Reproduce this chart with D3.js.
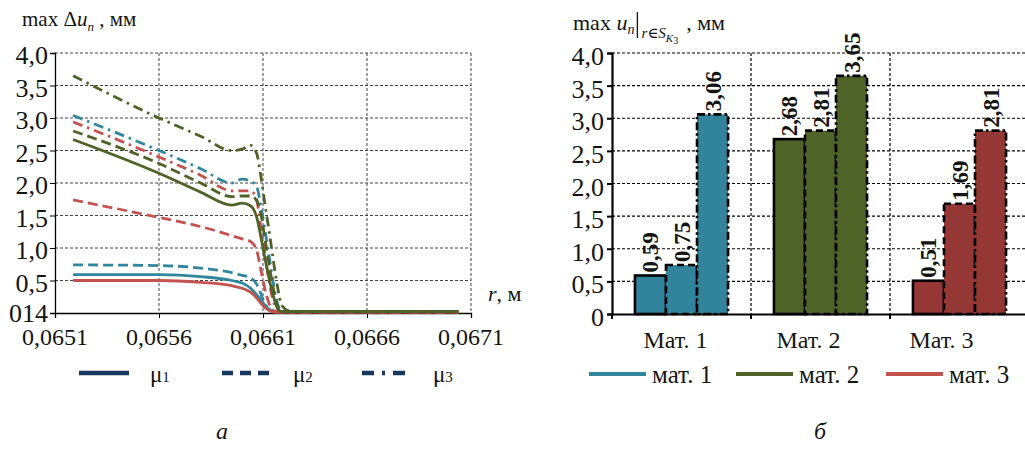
<!DOCTYPE html>
<html><head><meta charset="utf-8">
<script src="https://cdn.jsdelivr.net/npm/d3@7"></script>
<style>
body{margin:0;background:#fff}
svg{display:block}
</style>
</head><body><svg id="c" width="1025" height="450" font-family="'Liberation Serif', 'DejaVu Serif', 'Times New Roman', serif"></svg>
<script>
// ---------- Left chart data (r, м vs max Δu_n, мм) ----------
const rGrid = [0.065187,0.0656,0.0658,0.06595,0.0660,0.06604,0.06607,0.06609,0.06611,0.06613,0.06615,0.06617,0.06619,0.06623,0.0664,0.06704];
const mat1Mu1 = [0.59,0.59,0.56,0.50,0.46,0.38,0.28,0.20,0.12,0.05,0.03,0.025,0.025,0.025,0.025,0.025];
const mat1Mu2 = [0.74,0.73,0.69,0.62,0.58,0.54,0.44,0.29,0.14,0.05,0.03,0.025,0.025,0.025,0.025,0.025];
const mat1Mu3 = [3.04,2.50,2.22,2.00,2.06,2.03,1.94,1.64,1.26,0.86,0.45,0.14,0.04,0.025,0.025,0.025];
const mat3Mu1 = [0.50,0.50,0.47,0.42,0.38,0.32,0.23,0.15,0.08,0.04,0.015,0.01,0.01,0.015,0.015,0.015];
const mat3Mu2 = [1.74,1.47,1.33,1.19,1.14,1.10,0.96,0.66,0.36,0.14,0.04,0.02,0.015,0.015,0.015,0.015];
const mat3Mu3 = [2.94,2.40,2.12,1.88,1.88,1.88,1.73,1.32,0.90,0.47,0.18,0.06,0.02,0.015,0.015,0.015];
const mat2Mu1 = [2.67,2.15,1.86,1.66,1.69,1.65,1.47,1.17,0.83,0.52,0.26,0.07,0.02,0.02,0.02,0.02];
const mat2Mu2 = [2.80,2.30,2.00,1.79,1.80,1.80,1.73,1.52,1.13,0.73,0.37,0.10,0.02,0.02,0.02,0.02];
const mat2Mu3 = [3.65,3.00,2.72,2.50,2.52,2.58,2.45,2.10,1.66,1.25,0.80,0.40,0.12,0.03,0.02,0.02];
const leftXTicks = [0.0651,0.0656,0.0661,0.0666,0.0671];
const leftXTickLabels = ["0,0651","0,0656","0,0661","0,0666","0,0671"];
const leftYTicks = [0,0.5,1,1.5,2,2.5,3,3.5,4];
const leftYTickLabels = ["014","0,5","1,0","1,5","2,0","2,5","3,0","3,5","4,0"];
const muNames = ["μ","μ","μ"];
const muSubs = ["1","2","3"];

// ---------- Right chart data ----------
const barCategories = ["Мат. 1","Мат. 2","Мат. 3"];
const barMu1 = [0.59,2.68,0.51];
const barMu2 = [0.75,2.81,1.69];
const barMu3 = [3.06,3.65,2.81];
const barValueLabels = [["0,59","0,75","3,06"],["2,68","2,81","3,65"],["0,51","1,69","2,81"]];
const rightYTicks = [0,0.5,1,1.5,2,2.5,3,3.5,4];
const rightYTickLabels = ["0","0,5","1,0","1,5","2,0","2,5","3,0","3,5","4,0"];
const matLegend = ["мат. 1","мат. 2","мат. 3"];

// ---------- styles ----------
const lineColors = ["#31869e","#4f6228","#c4524f"];
const barColors = ["#31849b","#4f6228","#953735"];
const dashes = [null,"10,5","10,5,2.5,5"];
const barDashes = [null,"7,4","8,3,2.5,3"];
const navy = "#17375e";
const INK = "#141414";

const svg = d3.select("#c");

// ================= LEFT CHART =================
const L = {x0:55,x1:471,y0:313,y1:53};
const xL = d3.scaleLinear().domain([0.0651,0.0671]).range([L.x0,L.x1]);
const yL = d3.scaleLinear().domain([0,4]).range([L.y0,L.y1]);

const gL = svg.append("g");
gL.selectAll(".hg").data(leftYTicks.filter(d=>d>0)).join("line")
  .attr("x1",L.x0).attr("x2",L.x1).attr("y1",d=>yL(d)).attr("y2",d=>yL(d))
  .attr("stroke","#444").attr("stroke-width",1).attr("stroke-dasharray","3,2");
gL.selectAll(".vg").data(leftXTicks.slice(1)).join("line")
  .attr("x1",d=>xL(d)).attr("x2",d=>xL(d)).attr("y1",L.y1).attr("y2",L.y0)
  .attr("stroke","#444").attr("stroke-width",1).attr("stroke-dasharray","3,2");

const axLX = d3.axisBottom(xL).tickValues(leftXTicks).tickSize(5).tickFormat("");
gL.append("g").attr("transform",`translate(0,${L.y0})`).call(axLX)
  .call(g=>g.select(".domain").attr("stroke","#000").attr("stroke-width",1.3))
  .call(g=>g.selectAll(".tick line").attr("stroke","#000"));
const axLY = d3.axisLeft(yL).tickValues(leftYTicks).tickSize(5).tickFormat("");
gL.append("g").attr("transform",`translate(${L.x0},0)`).call(axLY)
  .call(g=>g.select(".domain").attr("stroke","#000").attr("stroke-width",1.3))
  .call(g=>g.selectAll(".tick line").attr("stroke","#000"));

gL.selectAll(".xl").data(leftXTicks).join("text")
  .attr("x",d=>xL(d)).attr("y",345).attr("text-anchor","middle").attr("fill",INK)
  .attr("font-size",24).text((d,i)=>leftXTickLabels[i]);
gL.selectAll(".yl").data(leftYTicks).join("text")
  .attr("x",48).attr("y",(d,i)=>yL(d)+(i===0?9:11)).attr("text-anchor","end").attr("fill",INK)
  .attr("font-size",26).text((d,i)=>leftYTickLabels[i]);

const line = d3.line().x((d,i)=>xL(rGrid[i])).y(d=>yL(d)).curve(d3.curveMonotoneX);
const series = [
  {v:mat1Mu1,c:0,m:0},{v:mat1Mu2,c:0,m:1},{v:mat1Mu3,c:0,m:2},
  {v:mat3Mu1,c:2,m:0},{v:mat3Mu2,c:2,m:1},{v:mat3Mu3,c:2,m:2},
  {v:mat2Mu1,c:1,m:0},{v:mat2Mu2,c:1,m:1},{v:mat2Mu3,c:1,m:2}
];
gL.selectAll(".ln").data(series).join("path")
  .attr("d",d=>line(d.v)).attr("fill","none")
  .attr("stroke",d=>lineColors[d.c]).attr("stroke-width",2.8)
  .attr("stroke-dasharray",d=>dashes[d.m]);

// left title
const tL = svg.append("text").attr("x",22).attr("y",26).attr("font-size",21).attr("fill",INK);
tL.append("tspan").text("max Δ");
tL.append("tspan").attr("font-style","italic").text("u");
tL.append("tspan").attr("font-style","italic").attr("font-size",13).attr("dy",5).text("n");
tL.append("tspan").attr("dy",-5).text(" , мм");

const tr = svg.append("text").attr("x",488).attr("y",301).attr("font-size",22).attr("fill",INK);
tr.append("tspan").attr("font-style","italic").text("r");
tr.append("tspan").text(", м");

// left legend
const legLX = [79,222,362];
const legL = svg.append("g");
legL.selectAll("line").data(legLX).join("line")
  .attr("x1",d=>d).attr("x2",d=>d+50).attr("y1",373).attr("y2",373)
  .attr("stroke",navy).attr("stroke-width",4.5)
  .attr("stroke-dasharray",(d,i)=>i===0?null:(i===1?"11,7":"12,8,3,8"));
legL.selectAll("text").data(legLX).join("text")
  .attr("x",d=>d+71).attr("y",382).attr("font-size",23).attr("fill",INK)
  .each(function(d,i){
    const t=d3.select(this);
    t.append("tspan").text(muNames[i]);
    t.append("tspan").attr("font-size",15).text(muSubs[i]);
  });

svg.append("text").attr("x",222).attr("y",439).attr("font-size",24).attr("fill",INK)
  .attr("font-style","italic").attr("text-anchor","middle").text("а");

// ================= RIGHT CHART =================
const R = {x0:612,x1:1029,y0:314,y1:53};
const xR = d3.scaleBand().domain(barCategories).range([R.x0,R.x1]).padding(0);
const xS = d3.scaleBand().domain([0,1,2]).range([0,xR.bandwidth()]).paddingInner(0).paddingOuter(0.74);
const yR = d3.scaleLinear().domain([0,4]).range([R.y0,R.y1]);
const gR = svg.append("g");

gR.selectAll(".hg").data(rightYTicks.filter(d=>d>0)).join("line")
  .attr("x1",R.x0).attr("x2",1025).attr("y1",d=>yR(d)).attr("y2",d=>yR(d))
  .attr("stroke","#000").attr("stroke-width",1.2).attr("stroke-dasharray","3,2");
gR.selectAll(".vg").data(barCategories.slice(1)).join("line")
  .attr("x1",d=>xR(d)).attr("x2",d=>xR(d)).attr("y1",R.y1).attr("y2",R.y0)
  .attr("stroke","#000").attr("stroke-width",1.2).attr("stroke-dasharray","3,2");

const barData = [];
barCategories.forEach((c,ci)=>{
  [barMu1,barMu2,barMu3].forEach((arr,mi)=>{
    barData.push({c,ci,mi,v:arr[ci],lab:barValueLabels[ci][mi]});
  });
});
gR.selectAll(".bar").data(barData).join("rect")
  .attr("x",d=>xR(d.c)+xS(d.mi)).attr("width",xS.bandwidth())
  .attr("y",d=>yR(d.v)).attr("height",d=>R.y0-yR(d.v))
  .attr("fill",d=>barColors[d.ci]).attr("stroke","#000").attr("stroke-width",2.6)
  .attr("stroke-dasharray",d=>barDashes[d.mi]);

gR.selectAll(".vl").data(barData).join("text")
  .attr("transform",d=>`translate(${xR(d.c)+xS(d.mi)+xS.bandwidth()/2+8},${yR(d.v)-3}) rotate(-90)`)
  .attr("font-size",23).attr("font-weight","bold").attr("fill",INK).text(d=>d.lab);

const axRX = d3.axisBottom(xR).tickValues([]).tickSize(0).tickFormat("");
gR.append("g").attr("transform",`translate(0,${R.y0})`).call(axRX)
  .call(g=>g.select(".domain").attr("stroke","#000").attr("stroke-width",2.2));
gR.selectAll(".xt").data(barCategories).join("line")
  .attr("x1",d=>xR(d)).attr("x2",d=>xR(d)).attr("y1",R.y0).attr("y2",R.y0+5)
  .attr("stroke","#000").attr("stroke-width",2);
const axRY = d3.axisLeft(yR).tickValues(rightYTicks).tickSize(5).tickFormat("");
gR.append("g").attr("transform",`translate(${R.x0},0)`).call(axRY)
  .call(g=>g.select(".domain").attr("stroke","#000").attr("stroke-width",2.2))
  .call(g=>g.selectAll(".tick line").attr("stroke","#000").attr("stroke-width",2));

gR.selectAll(".yl").data(rightYTicks).join("text")
  .attr("x",604).attr("y",d=>yR(d)+12).attr("text-anchor","end").attr("fill",INK)
  .attr("font-size",26).text((d,i)=>rightYTickLabels[i]);
gR.selectAll(".xl").data(barCategories).join("text")
  .attr("x",(d,i)=>xR(d)+xR.bandwidth()/2-6*(i+1)).attr("y",348).attr("text-anchor","middle").attr("fill",INK)
  .attr("font-size",24).text(d=>d);

// right title
const tR = svg.append("text").attr("x",573).attr("y",30).attr("font-size",22).attr("fill",INK);
tR.append("tspan").text("max ");
tR.append("tspan").attr("font-style","italic").text("u");
tR.append("tspan").attr("font-style","italic").attr("font-size",14).attr("dy",4).text("n");
const wR = tR.node().getComputedTextLength();
const barX = 573 + wR + 3;
svg.append("line").attr("x1",barX).attr("x2",barX).attr("y1",12).attr("y2",38).attr("stroke",INK).attr("stroke-width",1.3);
const tR2 = svg.append("text").attr("x",barX+4).attr("y",38).attr("font-size",15).attr("font-style","italic").attr("fill",INK);
tR2.append("tspan").text("r∈S");
tR2.append("tspan").attr("font-size",11).attr("dy",4).text("K");
tR2.append("tspan").attr("font-size",10).attr("font-style","normal").attr("dy",2).text("3");
const w2 = tR2.node().getComputedTextLength();
svg.append("text").attr("x",barX+4+w2+8).attr("y",30).attr("font-size",22).attr("fill",INK).text(", мм");

// right legend
const legRX = [589,736,886];
const legR = svg.append("g");
legR.selectAll("line").data(legRX).join("line")
  .attr("x1",d=>d).attr("x2",d=>d+57).attr("y1",374).attr("y2",374)
  .attr("stroke",(d,i)=>lineColors[i]).attr("stroke-width",4);
legR.selectAll("text").data(legRX).join("text")
  .attr("x",d=>d+63).attr("y",383).attr("font-size",25).attr("fill",INK).text((d,i)=>matLegend[i]);

svg.append("text").attr("x",820).attr("y",439).attr("font-size",24).attr("fill",INK)
  .attr("font-style","italic").attr("text-anchor","middle").text("б");
</script>
</body></html>
